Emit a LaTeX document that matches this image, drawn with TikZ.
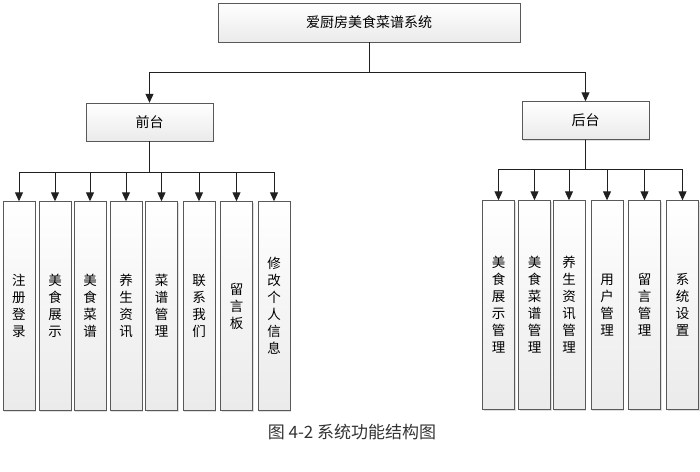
\documentclass[tikz,border=0pt]{standalone}
\usepackage{fontspec}
\newfontfamily\cjk{Noto Sans CJK SC}
\usetikzlibrary{arrows.meta,positioning,shadows}

\begin{document}
\begin{tikzpicture}[x=1pt,y=-1pt,
kuang/.style={draw=gray!70!black,top color=white,bottom color=gray!16,
  drop shadow={opacity=.25,shadow xshift=1.2pt,shadow yshift=-1.2pt},
  font=\cjk\fontsize{13.5}{17}\selectfont,align=center,inner sep=0pt},
topbox/.style={kuang,minimum width=302,minimum height=39,font=\cjk\fontsize{14}{17}\selectfont},
midbox/.style={kuang,minimum width=127,minimum height=38,font=\cjk\fontsize{14}{17}\selectfont},
leaf/.style={kuang,minimum width=32,minimum height=209},
arr/.style={draw=gray!25!black,line width=1pt,-{Triangle[width=8pt,length=9pt]}}]
\useasboundingbox (0,0) rectangle (700,471);
\node[topbox] (sys) at (369,22.5) {爱厨房美食菜谱系统};
\node[midbox] (qt) at (149.5,122) {前台};
\node[midbox] (ht) at (585.5,120.5) {后台};
% front end
\node[leaf] (q1) at (19,306) {注\\册\\登\\录};
\node[leaf] (q2) at (55,306) {美\\食\\展\\示};
\node[leaf] (q3) at (90,306) {美\\食\\菜\\谱};
\node[leaf] (q4) at (126,306) {养\\生\\资\\讯};
\node[leaf] (q5) at (161.5,306) {菜\\谱\\管\\理};
\node[leaf] (q6) at (199,306) {联\\系\\我\\们};
\node[leaf] (q7) at (236.5,306) {留\\言\\板};
\node[leaf] (q8) at (274,306) {修\\改\\个\\人\\信\\息};
% back end
\node[leaf] (h1) at (498.5,305) {美\\食\\展\\示\\管\\理};
\node[leaf] (h2) at (534.5,305) {美\\食\\菜\\谱\\管\\理};
\node[leaf] (h3) at (569,305) {养\\生\\资\\讯\\管\\理};
\node[leaf] (h4) at (607,305) {用\\户\\管\\理};
\node[leaf] (h5) at (644.5,305) {留\\言\\管\\理};
\node[leaf] (h6) at (682.5,305) {系\\统\\设\\置};
\node[font=\cjk\fontsize{17}{20}\selectfont,text=black!80] (cap) at (352,432) {图 4-2 系统功能结构图};
\draw[arr] (sys.south) -- ++(0,30) -| (qt.north);
\draw[arr] (sys.south) -- ++(0,30) -| (ht.north);
\draw[arr] (qt.south) -- ++(0,31) -| (q1.north);
\draw[arr] (qt.south) -- ++(0,31) -| (q2.north);
\draw[arr] (qt.south) -- ++(0,31) -| (q3.north);
\draw[arr] (qt.south) -- ++(0,31) -| (q4.north);
\draw[arr] (qt.south) -- ++(0,31) -| (q5.north);
\draw[arr] (qt.south) -- ++(0,31) -| (q6.north);
\draw[arr] (qt.south) -- ++(0,31) -| (q7.north);
\draw[arr] (qt.south) -- ++(0,31) -| (q8.north);
\draw[arr] (ht.south) -- ++(0,30) -| (h1.north);
\draw[arr] (ht.south) -- ++(0,30) -| (h2.north);
\draw[arr] (ht.south) -- ++(0,30) -| (h3.north);
\draw[arr] (ht.south) -- ++(0,30) -| (h4.north);
\draw[arr] (ht.south) -- ++(0,30) -| (h5.north);
\draw[arr] (ht.south) -- ++(0,30) -| (h6.north);
\end{tikzpicture}
\end{document}
